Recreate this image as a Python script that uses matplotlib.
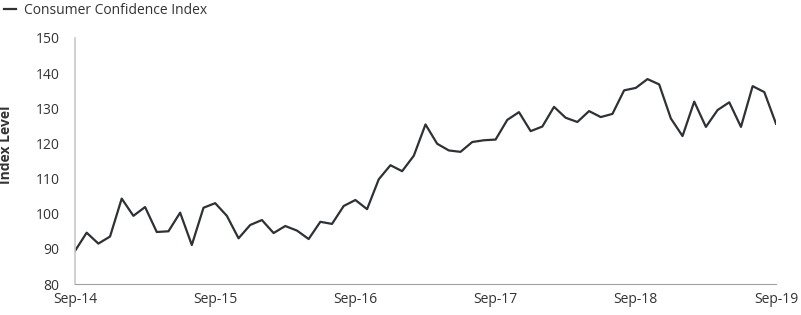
import numpy as np
import pandas as pd
import matplotlib.pyplot as plt

plt.rcParams['font.family'] = ['Open Sans', 'DejaVu Sans']

# monthly index, Sep-14 .. Sep-19
months = pd.date_range('2014-09-01', '2019-09-01', freq='MS')
values = [89.4, 94.6, 91.5, 93.5, 104.3, 99.4, 101.9, 94.8, 95.0, 100.3,
          91.1, 101.7, 103.0, 99.4, 93.0, 96.8, 98.2, 94.5, 96.5, 95.2,
          92.8, 97.7, 97.1, 102.2, 103.9, 101.3, 109.8, 113.8, 112.1, 116.5,
          125.4, 119.9, 118.0, 117.6, 120.4, 120.9, 121.1, 126.7, 128.9, 123.5,
          124.8, 130.4, 127.3, 126.1, 129.2, 127.5, 128.4, 135.1, 135.8, 138.3,
          136.8, 127.1, 122.1, 131.9, 124.7, 129.5, 131.7, 124.7, 136.3, 134.6,
          125.6]
tick_labels = ['Sep-14', 'Sep-15', 'Sep-16', 'Sep-17', 'Sep-18', 'Sep-19']

fig = plt.figure(figsize=(8.01, 3.15), dpi=100)
ax = fig.add_axes([0.0936, 0.0984, 0.8752, 0.781])

x = np.arange(len(months))
line, = ax.plot(x, values, color='#2e3135', lw=1.6, label='Consumer Confidence Index')

ax.set_xlim(0, 60)
ax.set_ylim(80, 150)
ax.set_yticks(range(80, 151, 10))
ax.set_xticks(range(0, 61, 12))
ax.set_xticklabels(tick_labels)

for s in ['top', 'right']:
    ax.spines[s].set_visible(False)
ax.spines['left'].set_color('#c8c8c8')
ax.spines['bottom'].set_color('#a0a0a0')
ax.spines['left'].set_linewidth(1.2)
ax.tick_params(axis='both', length=0, labelsize=10, colors='#333333')
ax.tick_params(axis='y', pad=11)
ax.tick_params(axis='x', pad=6)

ax.set_ylabel('Index Level', fontsize=10, fontweight='bold', color='#333333')
ax.yaxis.set_label_coords(-0.0884, 0.565)

fig.legend(handles=[line], loc='upper left', bbox_to_anchor=(-0.011, 1.03),
           frameon=False, handlelength=0.9, handletextpad=0.55, fontsize=10,
           labelcolor='#333333')

plt.savefig('out.png', dpi=100)
